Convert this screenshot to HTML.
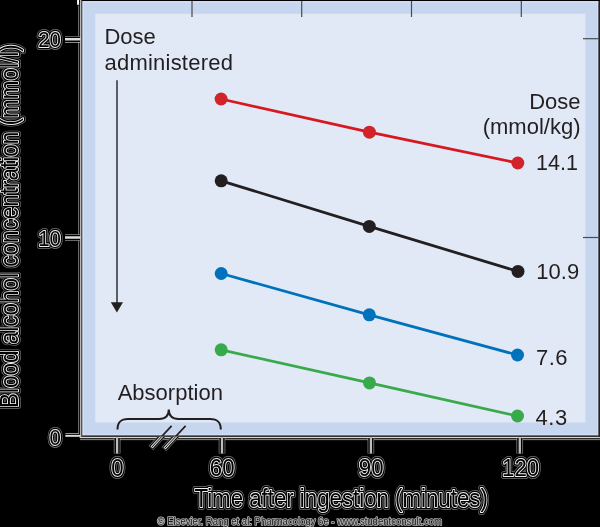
<!DOCTYPE html>
<html>
<head>
<meta charset="utf-8">
<title>Blood alcohol concentration</title>
<style>
html,body{margin:0;padding:0;background:#000;}
body{width:600px;height:527px;overflow:hidden;position:relative;}
svg{position:absolute;left:0;top:0;display:block;}
text{font-family:"Liberation Sans",sans-serif;}
.in{font-size:22px;fill:#231f20;}
.o1{fill:none;stroke:#747474;stroke-width:5.8;stroke-linejoin:round;}
.o2{fill:none;stroke:#000;stroke-width:4.5;stroke-linejoin:round;}
.o3{fill:#000;stroke:#f0f0f0;stroke-width:1.9;stroke-linejoin:round;paint-order:stroke;}
.t22{font-size:22px;}
</style>
</head>
<body>
<svg width="600" height="527" viewBox="0 0 600 527" style="will-change:transform">
<rect x="0" y="0" width="600" height="527" fill="#000"/>
<!-- plot frame -->
<rect x="82" y="1" width="516.5" height="434.5" fill="#c6d6ee"/>
<rect x="82.4" y="1" width="1.6" height="434.4" fill="#d0dff6"/>
<rect x="82.4" y="1" width="516" height="2" fill="#cddcf4"/>
<rect x="597" y="1" width="1.5" height="434.4" fill="#d0dff6"/>
<rect x="82.4" y="433.9" width="516" height="1.5" fill="#cfdef5"/>
<rect x="95.3" y="13.8" width="490.1" height="408.7" fill="#e2e9f6"/>
<!-- left axis -->
<rect x="78" y="5.5" width="0.75" height="428.4" fill="#8e8e8e"/>
<rect x="77.1" y="0" width="1.9" height="4.8" fill="#ffffff"/>
<rect x="79.9" y="0" width="1.4" height="438" fill="#b8b6b4"/>
<rect x="81.4" y="0" width="1" height="437" fill="#6a6664"/>
<!-- bottom axis -->
<rect x="81" y="435.4" width="519" height="1.2" fill="#5a5654"/>
<rect x="79.7" y="437" width="520.3" height="1.2" fill="#d6d6d6"/>
<rect x="80" y="439.3" width="520" height="0.8" fill="#b4b4b4"/>
<!-- right/top border -->
<rect x="598.5" y="0" width="1.5" height="437" fill="#2a2220"/>
<rect x="82" y="0" width="518" height="1" fill="#000"/>
<!-- top ticks -->
<g stroke="#4a4a52" stroke-width="1.2">
<line x1="192" y1="1" x2="192" y2="17"/>
<line x1="301.7" y1="1" x2="301.7" y2="17"/>
<line x1="411.5" y1="1" x2="411.5" y2="17"/>
<line x1="521.3" y1="1" x2="521.3" y2="17"/>
<line x1="583" y1="38.7" x2="598.5" y2="38.7"/>
<line x1="583" y1="237.5" x2="598.5" y2="237.5"/>
</g>
<!-- y ticks -->
<g fill="none">
<path d="M65 39.3H80M65 237.5H80" stroke="#b8b8b8" stroke-width="6.7"/>
<path d="M65 39.3H80M65 237.5H80" stroke="#000" stroke-width="5.4"/>
<path d="M65 39.3H80.5M65 237.5H80.5" stroke="#dcdcdc" stroke-width="2.6"/>
</g>
<rect x="65.3" y="433" width="13.45" height="0.75" fill="#c4c4c4"/>
<rect x="65.3" y="434.9" width="15" height="1.9" fill="#dcdcdc"/>
<!-- x ticks -->
<g fill="none">
<path d="M117.1 438V453.6M222 438V453.6M370.9 438V453.6M519.8 438V453.6" stroke="#a8a8a8" stroke-width="6.5"/>
<path d="M117.1 438V453.6M222 438V453.6M370.9 438V453.6M519.8 438V453.6" stroke="#000" stroke-width="5.3"/>
<path d="M117.1 437V453.6M222 437V453.6M370.9 437V453.6M519.8 437V453.6" stroke="#bdbdbd" stroke-width="2.3"/>
</g>
<!-- data lines -->
<g fill="none" stroke-width="2.8" stroke-linecap="round">
<polyline points="221.1,99 369.4,132.2 517.8,163" stroke="#d7181f"/>
<polyline points="221.2,180.8 369.3,226.4 518,271.4" stroke="#231f20"/>
<polyline points="221.2,273.5 369.3,314.8 517.5,355" stroke="#0072bc"/>
<polyline points="221.2,349.8 369.5,382.9 517.5,416" stroke="#39aa4b"/>
</g>
<g>
<circle cx="221.1" cy="99" r="6.5" fill="#d2232a"/><circle cx="369.4" cy="132.2" r="6.5" fill="#d2232a"/><circle cx="517.8" cy="163" r="6.5" fill="#d2232a"/>
<circle cx="221.2" cy="180.8" r="6.5" fill="#231f20"/><circle cx="369.3" cy="226.4" r="6.5" fill="#231f20"/><circle cx="518" cy="271.4" r="6.5" fill="#231f20"/>
<circle cx="221.2" cy="273.5" r="6.5" fill="#0072bc"/><circle cx="369.3" cy="314.8" r="6.5" fill="#0072bc"/><circle cx="517.5" cy="355" r="6.5" fill="#0072bc"/>
<circle cx="221.2" cy="349.8" r="6.5" fill="#39aa4b"/><circle cx="369.5" cy="382.9" r="6.5" fill="#39aa4b"/><circle cx="517.5" cy="416" r="6.5" fill="#39aa4b"/>
</g>
<!-- arrow -->
<line x1="117" y1="80.3" x2="117" y2="303" stroke="#3a3a42" stroke-width="1.6"/>
<polygon points="110.8,302.2 123,302.2 116.9,312.4" fill="#231f20"/>
<!-- brace -->
<path d="M117.5 429.6 C117.5 422 120.6 419 128 419 H159 C165.6 419 168.8 416.4 168.8 409.6 C168.8 416.4 172 419 178.6 419 H210.2 C217.6 419 220.8 422 220.8 429.6" fill="none" stroke="#231f20" stroke-width="2"/>
<!-- break marks -->
<clipPath id="ct"><rect x="0" y="0" width="600" height="436.6"/></clipPath>
<clipPath id="cb"><rect x="0" y="436.6" width="600" height="91"/></clipPath>
<g fill="none" stroke-linecap="butt" clip-path="url(#ct)">
<path d="M171.6 425.8L151.5 447.5M185.6 425.8L164.5 448.5" stroke="#231f20" stroke-width="1.7"/>
</g>
<g fill="none" stroke-linecap="butt" clip-path="url(#cb)">
<path d="M171.6 425.8L150.8 448.2M185.6 425.8L163.8 449.2" stroke="#7a7a7a" stroke-width="6.2"/>
<path d="M171.6 425.8L151 448M185.6 425.8L164 449" stroke="#000" stroke-width="4.9"/>
<path d="M171.6 425.8L151.5 447.5M185.6 425.8L164.5 448.5" stroke="#cfcfcf" stroke-width="3"/>
<path d="M171.6 425.8L152 447M185.6 425.8L165 448" stroke="#1a1a1a" stroke-width="1"/>
</g>
<!-- inner texts -->
<text class="in" x="104.4" y="43.8">Dose</text>
<text class="in" x="104.5" y="69.5" letter-spacing="0.22">administered</text>
<text class="in" x="580.5" y="108.6" text-anchor="end">Dose</text>
<text class="in" x="580.5" y="133.7" text-anchor="end">(mmol/kg)</text>
<text class="in" x="536" y="170.2" style="font-size:21.5px">14.1</text>
<text class="in" x="536.3" y="278.5">10.9</text>
<text class="in" x="536" y="365" letter-spacing="0.5">7.6</text>
<text class="in" x="535.5" y="424.5" letter-spacing="0.6">4.3</text>
<text class="in" x="117.7" y="400.2">Absorption</text>
<!-- outlined texts -->
<g id="ot" class="t22">
<g class="o1">
<text transform="translate(60.9 47.4) scale(0.93 1)" text-anchor="end">20</text>
<text transform="translate(60.9 246) scale(0.93 1)" text-anchor="end">10</text>
<text transform="translate(60.9 444.9) scale(0.93 1)" text-anchor="end">0</text>
<text transform="translate(117.3 476.2) scale(0.925 1)" text-anchor="middle" style="font-size:24px">0</text>
<text transform="translate(222.2 476.2) scale(0.925 1)" text-anchor="middle" style="font-size:24px">60</text>
<text transform="translate(371.2 476.2) scale(0.925 1)" text-anchor="middle" style="font-size:24px">90</text>
<text transform="translate(520.6 476.2) scale(0.925 1)" text-anchor="middle" style="font-size:24px">120</text>
<text transform="translate(194.4 507.2) scale(0.856 1)" style="font-size:26px">Time after ingestion (minutes)</text>
<text transform="translate(18 408) rotate(-90) scale(0.8655 1)" style="font-size:26px">Blood alcohol concentration (mmol/l)</text>
</g>
<g class="o2">
<text transform="translate(60.9 47.4) scale(0.93 1)" text-anchor="end">20</text>
<text transform="translate(60.9 246) scale(0.93 1)" text-anchor="end">10</text>
<text transform="translate(60.9 444.9) scale(0.93 1)" text-anchor="end">0</text>
<text transform="translate(117.3 476.2) scale(0.925 1)" text-anchor="middle" style="font-size:24px">0</text>
<text transform="translate(222.2 476.2) scale(0.925 1)" text-anchor="middle" style="font-size:24px">60</text>
<text transform="translate(371.2 476.2) scale(0.925 1)" text-anchor="middle" style="font-size:24px">90</text>
<text transform="translate(520.6 476.2) scale(0.925 1)" text-anchor="middle" style="font-size:24px">120</text>
<text transform="translate(194.4 507.2) scale(0.856 1)" style="font-size:26px">Time after ingestion (minutes)</text>
<text transform="translate(18 408) rotate(-90) scale(0.8655 1)" style="font-size:26px">Blood alcohol concentration (mmol/l)</text>
</g>
<g class="o3">
<text transform="translate(60.9 47.4) scale(0.93 1)" text-anchor="end">20</text>
<text transform="translate(60.9 246) scale(0.93 1)" text-anchor="end">10</text>
<text transform="translate(60.9 444.9) scale(0.93 1)" text-anchor="end">0</text>
<text transform="translate(117.3 476.2) scale(0.925 1)" text-anchor="middle" style="font-size:24px">0</text>
<text transform="translate(222.2 476.2) scale(0.925 1)" text-anchor="middle" style="font-size:24px">60</text>
<text transform="translate(371.2 476.2) scale(0.925 1)" text-anchor="middle" style="font-size:24px">90</text>
<text transform="translate(520.6 476.2) scale(0.925 1)" text-anchor="middle" style="font-size:24px">120</text>
<text transform="translate(194.4 507.2) scale(0.856 1)" style="font-size:26px">Time after ingestion (minutes)</text>
<text transform="translate(18 408) rotate(-90) scale(0.8655 1)" style="font-size:26px">Blood alcohol concentration (mmol/l)</text>
</g>
</g>
<!-- copyright -->
<g style="font-size:10px">
<text x="157.5" y="524.6" fill="#1c1c1c" stroke="#b4b4b4" stroke-width="1.7" stroke-linejoin="round" paint-order="stroke" textLength="284.5" lengthAdjust="spacingAndGlyphs">© Elsevier. Rang et al: Pharmacology 6e - www.studentconsult.com</text>
</g>
</svg>
</body>
</html>
